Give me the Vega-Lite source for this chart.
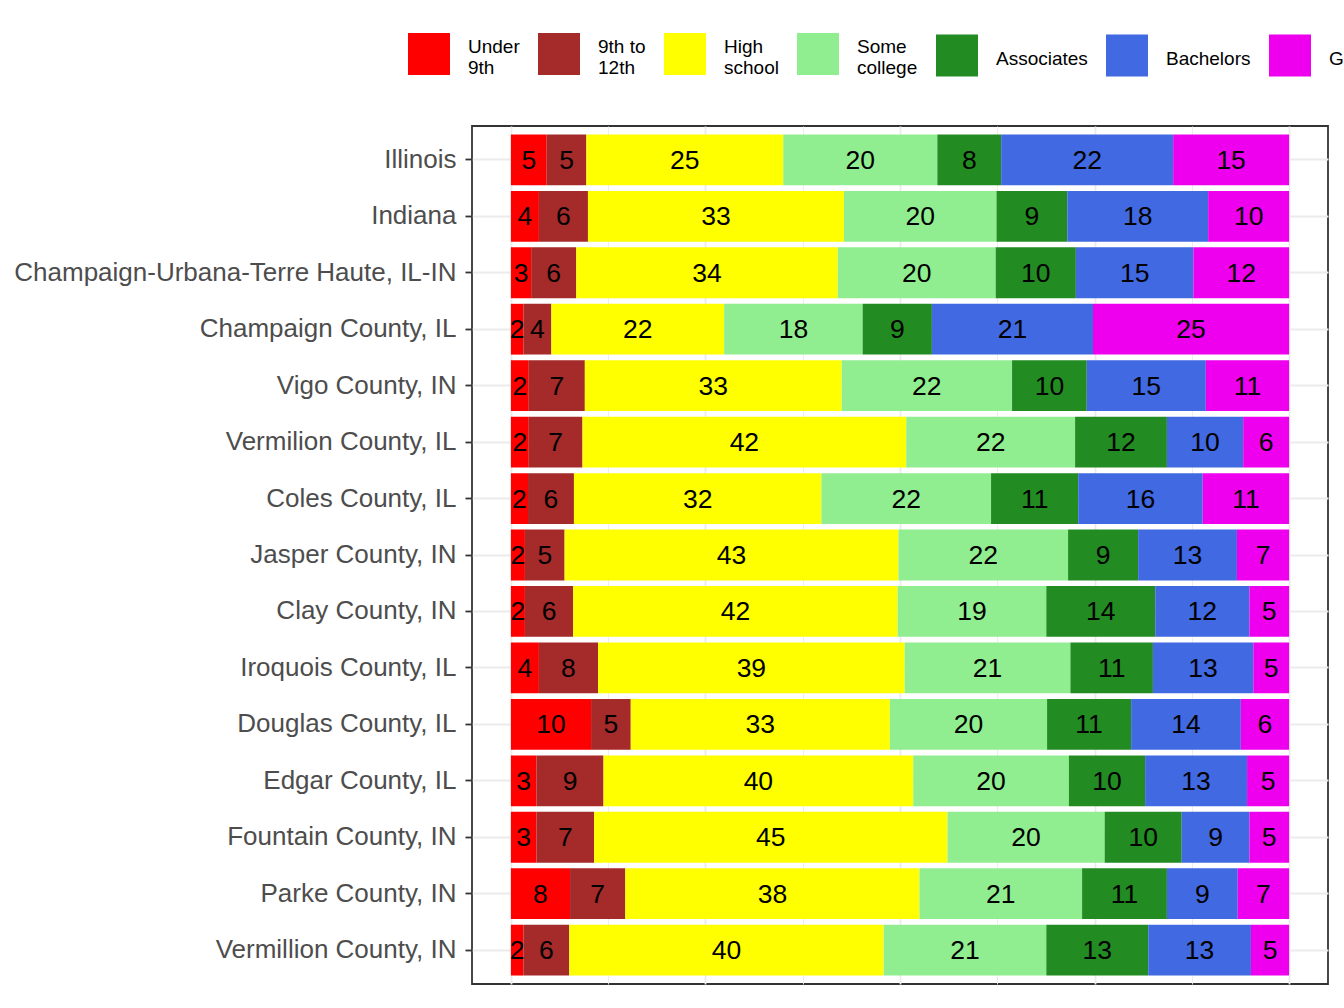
{
  "$schema": "https://vega.github.io/schema/vega-lite/v6.json",
  "autosize": {"type": "none"},
  "width": 856,
  "height": 858,
  "padding": {"left": 472, "top": 126, "right": 16, "bottom": 24},
  "background": "white",
  "config": {
    "font": "Liberation Sans",
    "view": {"stroke": "#333333", "strokeWidth": 1.8}
  },
  "data": {
    "values": [
      {"region": "Illinois", "level": "Under 9th", "pct": 4.6},
      {"region": "Illinois", "level": "9th to 12th", "pct": 5.1},
      {"region": "Illinois", "level": "High school", "pct": 25.3},
      {"region": "Illinois", "level": "Some college", "pct": 19.8},
      {"region": "Illinois", "level": "Associates", "pct": 8.2},
      {"region": "Illinois", "level": "Bachelors", "pct": 22.1},
      {"region": "Illinois", "level": "Graduate", "pct": 14.9},
      {"region": "Indiana", "level": "Under 9th", "pct": 3.6},
      {"region": "Indiana", "level": "9th to 12th", "pct": 6.3},
      {"region": "Indiana", "level": "High school", "pct": 32.9},
      {"region": "Indiana", "level": "Some college", "pct": 19.6},
      {"region": "Indiana", "level": "Associates", "pct": 9.1},
      {"region": "Indiana", "level": "Bachelors", "pct": 18.1},
      {"region": "Indiana", "level": "Graduate", "pct": 10.4},
      {"region": "Champaign-Urbana-Terre Haute, IL-IN", "level": "Under 9th", "pct": 2.6},
      {"region": "Champaign-Urbana-Terre Haute, IL-IN", "level": "9th to 12th", "pct": 5.8},
      {"region": "Champaign-Urbana-Terre Haute, IL-IN", "level": "High school", "pct": 33.6},
      {"region": "Champaign-Urbana-Terre Haute, IL-IN", "level": "Some college", "pct": 20.3},
      {"region": "Champaign-Urbana-Terre Haute, IL-IN", "level": "Associates", "pct": 10.3},
      {"region": "Champaign-Urbana-Terre Haute, IL-IN", "level": "Bachelors", "pct": 15.1},
      {"region": "Champaign-Urbana-Terre Haute, IL-IN", "level": "Graduate", "pct": 12.3},
      {"region": "Champaign County, IL", "level": "Under 9th", "pct": 1.6},
      {"region": "Champaign County, IL", "level": "9th to 12th", "pct": 3.6},
      {"region": "Champaign County, IL", "level": "High school", "pct": 22.2},
      {"region": "Champaign County, IL", "level": "Some college", "pct": 17.8},
      {"region": "Champaign County, IL", "level": "Associates", "pct": 8.9},
      {"region": "Champaign County, IL", "level": "Bachelors", "pct": 20.7},
      {"region": "Champaign County, IL", "level": "Graduate", "pct": 25.2},
      {"region": "Vigo County, IN", "level": "Under 9th", "pct": 2.3},
      {"region": "Vigo County, IN", "level": "9th to 12th", "pct": 7.2},
      {"region": "Vigo County, IN", "level": "High school", "pct": 33.0},
      {"region": "Vigo County, IN", "level": "Some college", "pct": 21.9},
      {"region": "Vigo County, IN", "level": "Associates", "pct": 9.6},
      {"region": "Vigo County, IN", "level": "Bachelors", "pct": 15.3},
      {"region": "Vigo County, IN", "level": "Graduate", "pct": 10.7},
      {"region": "Vermilion County, IL", "level": "Under 9th", "pct": 2.3},
      {"region": "Vermilion County, IL", "level": "9th to 12th", "pct": 6.9},
      {"region": "Vermilion County, IL", "level": "High school", "pct": 41.6},
      {"region": "Vermilion County, IL", "level": "Some college", "pct": 21.7},
      {"region": "Vermilion County, IL", "level": "Associates", "pct": 11.8},
      {"region": "Vermilion County, IL", "level": "Bachelors", "pct": 9.8},
      {"region": "Vermilion County, IL", "level": "Graduate", "pct": 5.9},
      {"region": "Coles County, IL", "level": "Under 9th", "pct": 2.2},
      {"region": "Coles County, IL", "level": "9th to 12th", "pct": 5.9},
      {"region": "Coles County, IL", "level": "High school", "pct": 31.8},
      {"region": "Coles County, IL", "level": "Some college", "pct": 21.8},
      {"region": "Coles County, IL", "level": "Associates", "pct": 11.2},
      {"region": "Coles County, IL", "level": "Bachelors", "pct": 16.0},
      {"region": "Coles County, IL", "level": "Graduate", "pct": 11.1},
      {"region": "Jasper County, IN", "level": "Under 9th", "pct": 1.8},
      {"region": "Jasper County, IN", "level": "9th to 12th", "pct": 5.1},
      {"region": "Jasper County, IN", "level": "High school", "pct": 42.9},
      {"region": "Jasper County, IN", "level": "Some college", "pct": 21.8},
      {"region": "Jasper County, IN", "level": "Associates", "pct": 9.0},
      {"region": "Jasper County, IN", "level": "Bachelors", "pct": 12.7},
      {"region": "Jasper County, IN", "level": "Graduate", "pct": 6.7},
      {"region": "Clay County, IN", "level": "Under 9th", "pct": 1.8},
      {"region": "Clay County, IN", "level": "9th to 12th", "pct": 6.2},
      {"region": "Clay County, IN", "level": "High school", "pct": 41.7},
      {"region": "Clay County, IN", "level": "Some college", "pct": 19.1},
      {"region": "Clay County, IN", "level": "Associates", "pct": 14.0},
      {"region": "Clay County, IN", "level": "Bachelors", "pct": 12.1},
      {"region": "Clay County, IN", "level": "Graduate", "pct": 5.1},
      {"region": "Iroquois County, IL", "level": "Under 9th", "pct": 3.6},
      {"region": "Iroquois County, IL", "level": "9th to 12th", "pct": 7.6},
      {"region": "Iroquois County, IL", "level": "High school", "pct": 39.4},
      {"region": "Iroquois County, IL", "level": "Some college", "pct": 21.3},
      {"region": "Iroquois County, IL", "level": "Associates", "pct": 10.6},
      {"region": "Iroquois County, IL", "level": "Bachelors", "pct": 12.9},
      {"region": "Iroquois County, IL", "level": "Graduate", "pct": 4.6},
      {"region": "Douglas County, IL", "level": "Under 9th", "pct": 10.3},
      {"region": "Douglas County, IL", "level": "9th to 12th", "pct": 5.1},
      {"region": "Douglas County, IL", "level": "High school", "pct": 33.3},
      {"region": "Douglas County, IL", "level": "Some college", "pct": 20.2},
      {"region": "Douglas County, IL", "level": "Associates", "pct": 10.8},
      {"region": "Douglas County, IL", "level": "Bachelors", "pct": 14.1},
      {"region": "Douglas County, IL", "level": "Graduate", "pct": 6.2},
      {"region": "Edgar County, IL", "level": "Under 9th", "pct": 3.3},
      {"region": "Edgar County, IL", "level": "9th to 12th", "pct": 8.6},
      {"region": "Edgar County, IL", "level": "High school", "pct": 39.8},
      {"region": "Edgar County, IL", "level": "Some college", "pct": 20.0},
      {"region": "Edgar County, IL", "level": "Associates", "pct": 9.8},
      {"region": "Edgar County, IL", "level": "Bachelors", "pct": 13.1},
      {"region": "Edgar County, IL", "level": "Graduate", "pct": 5.4},
      {"region": "Fountain County, IN", "level": "Under 9th", "pct": 3.3},
      {"region": "Fountain County, IN", "level": "9th to 12th", "pct": 7.4},
      {"region": "Fountain County, IN", "level": "High school", "pct": 45.4},
      {"region": "Fountain County, IN", "level": "Some college", "pct": 20.2},
      {"region": "Fountain County, IN", "level": "Associates", "pct": 9.9},
      {"region": "Fountain County, IN", "level": "Bachelors", "pct": 8.7},
      {"region": "Fountain County, IN", "level": "Graduate", "pct": 5.1},
      {"region": "Parke County, IN", "level": "Under 9th", "pct": 7.6},
      {"region": "Parke County, IN", "level": "9th to 12th", "pct": 7.1},
      {"region": "Parke County, IN", "level": "High school", "pct": 37.8},
      {"region": "Parke County, IN", "level": "Some college", "pct": 20.9},
      {"region": "Parke County, IN", "level": "Associates", "pct": 10.9},
      {"region": "Parke County, IN", "level": "Bachelors", "pct": 9.1},
      {"region": "Parke County, IN", "level": "Graduate", "pct": 6.6},
      {"region": "Vermillion County, IN", "level": "Under 9th", "pct": 1.6},
      {"region": "Vermillion County, IN", "level": "9th to 12th", "pct": 5.9},
      {"region": "Vermillion County, IN", "level": "High school", "pct": 40.4},
      {"region": "Vermillion County, IN", "level": "Some college", "pct": 20.9},
      {"region": "Vermillion County, IN", "level": "Associates", "pct": 13.1},
      {"region": "Vermillion County, IN", "level": "Bachelors", "pct": 13.2},
      {"region": "Vermillion County, IN", "level": "Graduate", "pct": 4.9}
    ]
  },
  "transform": [
    {"window": [{"op": "row_number", "as": "k"}], "groupby": ["region"]}
  ],
  "encoding": {
    "y": {
      "field": "region",
      "type": "nominal",
      "sort": null,
      "title": null,
      "scale": {"paddingInner": 0.1, "paddingOuter": 0.15},
      "axis": {
        "grid": true,
        "gridColor": "#EBEBEB",
        "gridWidth": 1.8,
        "domain": false,
        "tickColor": "#333333",
        "tickWidth": 1.8,
        "tickSize": 7,
        "labelFontSize": 26,
        "labelColor": "#4D4D4D",
        "labelPadding": 9,
        "labelLimit": 600
      }
    },
    "order": {"field": "k", "type": "quantitative"}
  },
  "layer": [
    {
      "mark": {"type": "bar"},
      "encoding": {
        "x": {
          "field": "pct",
          "type": "quantitative",
          "stack": "normalize",
          "scale": {"domain": [-0.05, 1.05], "nice": false, "zero": false},
          "axis": {
            "title": null,
            "labels": false,
            "ticks": false,
            "domain": false,
            "grid": true,
            "gridColor": "#EBEBEB",
            "gridWidth": {"condition": {"test": "datum.value * 4 == round(datum.value * 4)", "value": 1.8}, "value": 0.9},
            "values": [0, 0.125, 0.25, 0.375, 0.5, 0.625, 0.75, 0.875, 1]
          }
        },
        "color": {
          "field": "level",
          "type": "nominal",
          "sort": ["Under 9th", "9th to 12th", "High school", "Some college", "Associates", "Bachelors", "Graduate"],
          "scale": {
            "domain": ["Under 9th", "9th to 12th", "High school", "Some college", "Associates", "Bachelors", "Graduate"],
            "range": ["#FF0000", "#A52A2A", "#FFFF00", "#90EE90", "#228B22", "#4169E1", "#EE00EE"]
          },
          "legend": {
            "orient": "none",
            "legendX": -64,
            "legendY": -93,
            "direction": "horizontal",
            "columns": 7,
            "title": null,
            "padding": 0,
            "symbolType": "square",
            "symbolSize": 1764,
            "symbolStrokeWidth": 0,
            "symbolOpacity": 1,
            "labelFontSize": 19,
            "labelColor": "black",
            "labelOffset": 18,
            "labelLimit": 300,
            "columnPadding": 18,
            "labelExpr": "datum.label == 'Under 9th' ? ['Under', '9th'] : datum.label == '9th to 12th' ? ['9th to', '12th'] : datum.label == 'High school' ? ['High', 'school'] : datum.label == 'Some college' ? ['Some', 'college'] : datum.label",
            "encode": {
              "labels": {
                "update": {
                  "dy": {"signal": "indexof(['Under 9th', '9th to 12th', 'High school', 'Some college'], datum.value) >= 0 ? -7 : 3"}
                }
              }
            }
          }
        }
      }
    },
    {
      "mark": {"type": "text", "fontSize": 26.5, "color": "black", "baseline": "middle", "dy": 1},
      "encoding": {
        "x": {"field": "pct", "type": "quantitative", "stack": "normalize", "bandPosition": 0.5},
        "detail": {"field": "level"},
        "text": {"field": "pct", "type": "quantitative", "format": ".0f"}
      }
    }
  ]
}
